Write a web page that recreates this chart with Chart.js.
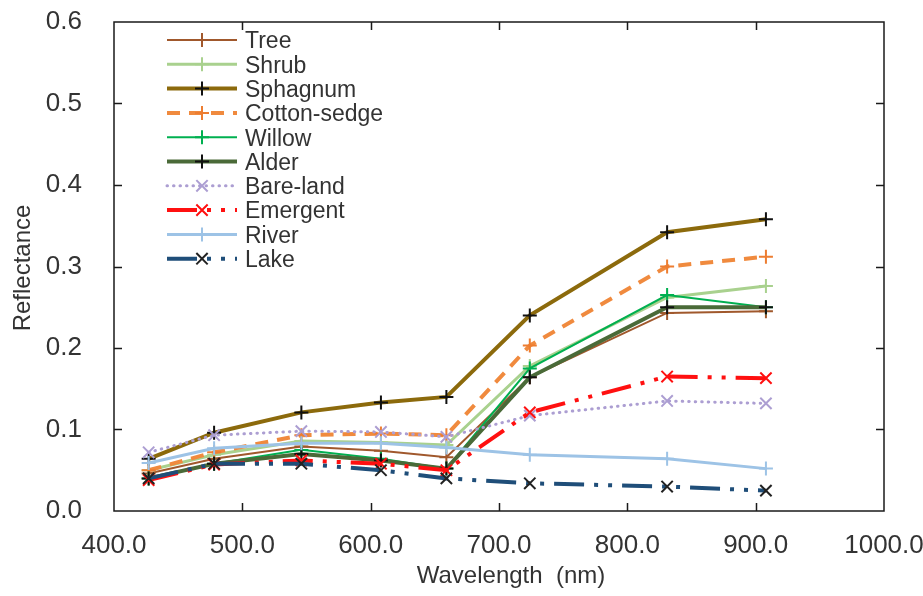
<!DOCTYPE html>
<html>
<head>
<meta charset="utf-8">
<title>Reflectance spectra</title>
<script src="https://cdn.jsdelivr.net/npm/chart.js@4.4.1/dist/chart.umd.min.js"></script>
<style>
    html, body { margin: 0; padding: 0; background: #fff; }
    #wrap { width: 923px; height: 596px; }
</style>
</head>
<body>
<div id="wrap"><canvas id="canvasSpectra" width="923" height="596"></canvas></div>
<script>
"use strict";

// band centres (nm)
var wavelengths = [427, 478, 546, 608, 659, 724, 831, 908];

// mean reflectance per land-cover class
var tree     = [0.046, 0.064, 0.079, 0.074, 0.066, 0.164, 0.243, 0.245];
var shrub    = [0.050, 0.069, 0.086, 0.084, 0.081, 0.178, 0.262, 0.276];
var sphagnum = [0.064, 0.096, 0.121, 0.133, 0.140, 0.240, 0.342, 0.358];
var cotton   = [0.050, 0.072, 0.093, 0.095, 0.093, 0.203, 0.300, 0.312];
var willow   = [0.040, 0.058, 0.075, 0.064, 0.052, 0.175, 0.265, 0.250];
var alder    = [0.040, 0.058, 0.070, 0.062, 0.052, 0.164, 0.250, 0.250];
var bareLand = [0.072, 0.093, 0.098, 0.097, 0.091, 0.117, 0.135, 0.132];
var emergent = [0.038, 0.057, 0.062, 0.058, 0.050, 0.121, 0.165, 0.163];
var river    = [0.059, 0.077, 0.083, 0.083, 0.078, 0.069, 0.064, 0.052];
var lake     = [0.040, 0.058, 0.058, 0.050, 0.040, 0.034, 0.030, 0.025];

var seriesNames  = ['Tree', 'Shrub', 'Sphagnum', 'Cotton-sedge', 'Willow', 'Alder', 'Bare-land', 'Emergent', 'River', 'Lake'];
var seriesValues = [tree, shrub, sphagnum, cotton, willow, alder, bareLand, emergent, river, lake];

var xTicks = [400, 500, 600, 700, 800, 900, 1000];
var yTicks = [0, 0.1, 0.2, 0.3, 0.4, 0.5, 0.6];

// line looks
var dashDotDot = [30, 10, 4, 10, 4, 10];
var lineColors   = ['#A0582C', '#A9D18E', '#8C6A0C', '#F08A3E', '#00B050', '#4A6A38', '#AC9ED2', '#FF1010', '#9DC3E6', '#1F4E79'];
var markerColors = ['#A0582C', '#A9D18E', '#111111', '#ED7D31', '#00B050', '#111111', '#AC9ED2', '#FF1010', '#9DC3E6', '#222222'];
var lineWidths   = [2, 3, 4, 4, 2, 4, 3, 4, 3, 4];
var lineDashes   = [[], [], [], [13, 9], [], [], [0.5, 6], dashDotDot, [], dashDotDot];
var capStyles    = ['butt', 'butt', 'butt', 'butt', 'butt', 'butt', 'round', 'butt', 'butt', 'butt'];
var markerStyles = ['cross', 'cross', 'cross', 'cross', 'cross', 'cross', 'crossRot', 'crossRot', 'cross', 'crossRot'];

var fontFamily = '"Liberation Sans", Arial, sans-serif';
var textColor = '#333333';

function BuildDatasets() {
    var datasets = [];
    seriesNames.forEach(function (name, i) {
        datasets.push({
            label: name,
            data: seriesValues[i].map(function (v, j) { return { x: wavelengths[j], y: v }; }),
            borderColor: lineColors[i],
            borderWidth: lineWidths[i],
            borderDash: lineDashes[i],
            borderCapStyle: capStyles[i],
            pointStyle: markerStyles[i],
            pointRadius: markerStyles[i] === 'cross' ? 7 : 8,
            pointBorderColor: markerColors[i],
            pointBackgroundColor: markerColors[i],
            pointBorderWidth: 2,
            tension: 0,
            fill: false,
            // later series sit on top
            order: seriesNames.length - i
        });
    });
    return datasets;
}

// box around the plot with inward tick marks on all four sides
var frameAndTicks = {
    id: 'frameAndTicks',
    afterDatasetsDraw: function (chart) {
        var ctx = chart.ctx;
        var area = chart.chartArea;
        var xs = chart.scales.x;
        var ys = chart.scales.y;
        var len = 8;
        ctx.save();
        ctx.strokeStyle = '#1a1a1a';
        ctx.lineWidth = 1.5;
        ctx.setLineDash([]);
        ctx.strokeRect(area.left, area.top, area.right - area.left, area.bottom - area.top);
        ctx.beginPath();
        xTicks.slice(1, -1).forEach(function (v) {
            var px = Math.round(xs.getPixelForValue(v)) + 0.5;
            ctx.moveTo(px, area.bottom); ctx.lineTo(px, area.bottom - len);
            ctx.moveTo(px, area.top); ctx.lineTo(px, area.top + len);
        });
        yTicks.slice(1, -1).forEach(function (v) {
            var py = Math.round(ys.getPixelForValue(v)) + 0.5;
            ctx.moveTo(area.left, py); ctx.lineTo(area.left + len, py);
            ctx.moveTo(area.right, py); ctx.lineTo(area.right - len, py);
        });
        ctx.stroke();

        // axis titles
        ctx.fillStyle = textColor;
        ctx.font = '24px ' + fontFamily;
        ctx.textAlign = 'center';
        ctx.textBaseline = 'middle';
        ctx.fillText('Wavelength  (nm)', 511, 576);
        ctx.translate(23, 268);
        ctx.rotate(-Math.PI / 2);
        ctx.fillText('Reflectance', 0, 0);
        ctx.restore();
    }
};

// legend drawn inside the plot, top-left
var insideLegend = {
    id: 'insideLegend',
    afterDraw: function (chart) {
        var ctx = chart.ctx;
        var x0 = 167, x1 = 237, xm = 202, xText = 245;
        var y0 = 40, step = 24.3;
        chart.data.datasets.forEach(function (ds, i) {
            var y = y0 + i * step;
            ctx.save();
            ctx.strokeStyle = ds.borderColor;
            ctx.lineWidth = ds.borderWidth;
            ctx.lineCap = ds.borderCapStyle;
            ctx.setLineDash(ds.borderDash);
            ctx.beginPath();
            ctx.moveTo(x0, y);
            ctx.lineTo(x1, y);
            ctx.stroke();
            ctx.setLineDash([]);
            ctx.lineCap = 'butt';
            ctx.strokeStyle = ds.pointBorderColor;
            ctx.fillStyle = ds.pointBackgroundColor;
            ctx.lineWidth = ds.pointBorderWidth;
            Chart.helpers.drawPoint(ctx, {
                pointStyle: ds.pointStyle,
                radius: ds.pointRadius,
                borderWidth: ds.pointBorderWidth,
                rotation: 0
            }, xm, y);
            ctx.fillStyle = textColor;
            ctx.font = '23px ' + fontFamily;
            ctx.textAlign = 'left';
            ctx.textBaseline = 'alphabetic';
            ctx.fillText(ds.label, xText, y + 8.3);
            ctx.restore();
        });
    }
};

const context = document.getElementById('canvasSpectra');
const spectraChart = new Chart(context, {
    type: 'line',
    data: { datasets: BuildDatasets() },
    plugins: [frameAndTicks, insideLegend],
    options: {
        responsive: false,
        animation: false,
        devicePixelRatio: 1,
        layout: { padding: { top: 22, right: 39, left: 0, bottom: 0 } },
        plugins: {
            legend: { display: false },
            tooltip: { enabled: false }
        },
        scales: {
            x: {
                type: 'linear',
                min: 400,
                max: 1000,
                afterFit: function (scale) {
                    scale.height = 85;
                    scale.paddingLeft = 0;
                    scale.paddingRight = 0;
                },
                afterBuildTicks: function (scale) {
                    scale.ticks = xTicks.map(function (v) { return { value: v }; });
                },
                grid: { display: false, drawTicks: false },
                border: { display: false },
                ticks: {
                    padding: 19,
                    maxRotation: 0,
                    autoSkip: false,
                    color: textColor,
                    font: { family: fontFamily, size: 26 },
                    callback: function (value) { return value.toFixed(1); }
                }
            },
            y: {
                type: 'linear',
                min: 0,
                max: 0.6,
                afterFit: function (scale) {
                    scale.width = 114;
                    scale.paddingTop = 0;
                    scale.paddingBottom = 0;
                },
                afterBuildTicks: function (scale) {
                    scale.ticks = yTicks.map(function (v) { return { value: v }; });
                },
                grid: { display: false, drawTicks: false },
                border: { display: false },
                ticks: {
                    padding: 32,
                    color: textColor,
                    font: { family: fontFamily, size: 26 },
                    callback: function (value) { return value.toFixed(1); }
                }
            }
        }
    }
});
</script>
</body>
</html>
